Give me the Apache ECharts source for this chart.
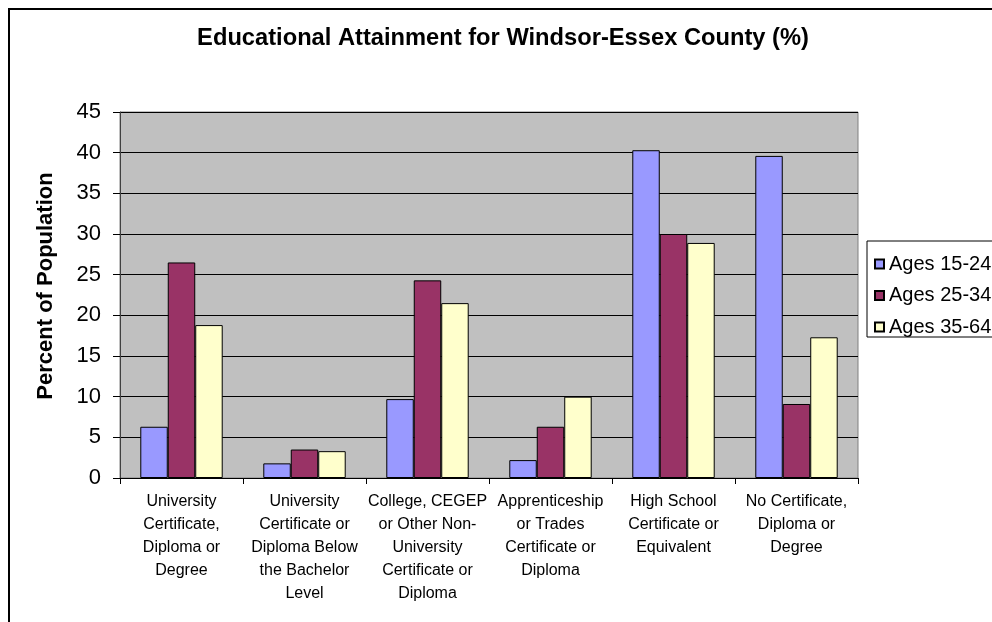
<!DOCTYPE html>
<html>
<head>
<meta charset="utf-8">
<script src="https://cdn.jsdelivr.net/npm/echarts@6/dist/echarts.min.js"></script>
<style>html,body{margin:0;padding:0;background:#fff;}#c{width:992px;height:622px;}</style>
</head>
<body>
<div id="c"></div>
<script>
const chartTitle = 'Educational Attainment for Windsor-Essex County (%)';
const yAxisName = 'Percent of Population';
const categories = [
  'University\nCertificate,\nDiploma or\nDegree',
  'University\nCertificate or\nDiploma Below\nthe Bachelor\nLevel',
  'College, CEGEP\nor Other Non-\nUniversity\nCertificate or\nDiploma',
  'Apprenticeship\nor Trades\nCertificate or\nDiploma',
  'High School\nCertificate or\nEquivalent',
  'No Certificate,\nDiploma or\nDegree'
];
const seriesNames = ['Ages 15-24', 'Ages 25-34', 'Ages 35-64'];
const ages15to24 = [6.3, 1.8, 9.7, 2.2, 40.3, 39.6];
const ages25to34 = [26.5, 3.5, 24.3, 6.3, 30.0, 9.1];
const ages35to64 = [18.8, 3.3, 21.5, 10.0, 28.9, 17.3];
const seriesColors = ['#9999FF', '#993366', '#FFFFCC'];
const seriesValues = [ages15to24, ages25to34, ages35to64];

const chart = echarts.init(document.getElementById('c'));
const font = 'Arial, "Liberation Sans", sans-serif';
chart.setOption({
  animation: false,
  backgroundColor: '#ffffff',
  title: {
    text: chartTitle,
    left: 498,
    textAlign: 'center',
    top: 21,
    textStyle: { fontFamily: font, fontSize: 23.7, fontWeight: 'bold', color: '#000' }
  },
  graphic: [{
    type: 'rect',
    shape: { x: 9, y: 9, width: 1200, height: 800 },
    style: { fill: 'none', stroke: '#000', lineWidth: 2 },
    silent: true
  }],
  legend: {
    orient: 'vertical',
    left: 867,
    top: 241,
    itemWidth: 9,
    itemHeight: 9,
    itemGap: 11.5,
    padding: [13, 40, 0, 7],
    borderColor: '#000',
    borderWidth: 1,
    backgroundColor: '#fff',
    icon: 'rect',
    textStyle: { fontFamily: font, fontSize: 20, lineHeight: 20, color: '#000' },
    data: seriesNames
  },
  grid: {
    left: 120, top: 112, right: 134, bottom: 144,
    show: true, backgroundColor: '#C0C0C0', borderColor: '#808080', borderWidth: 1
  },
  xAxis: {
    type: 'category',
    data: categories,
    axisLine: { lineStyle: { color: '#000', width: 1 } },
    axisTick: { show: true, length: 6, lineStyle: { color: '#000' } },
    axisLabel: {
      interval: 0, margin: 12, lineHeight: 23,
      fontFamily: font, fontSize: 16, color: '#000', align: 'center'
    }
  },
  yAxis: {
    type: 'value',
    min: 0, max: 45, interval: 5,
    name: yAxisName,
    nameLocation: 'middle',
    nameRotate: 90,
    nameGap: 63,
    nameTextStyle: { fontFamily: font, fontSize: 22, fontWeight: 'bold', color: '#000', padding: [0, 0, 0, 18] },
    axisLine: { show: true, lineStyle: { color: '#404040', width: 1 } },
    axisTick: { show: true, length: 7, lineStyle: { color: '#000' } },
    axisLabel: { margin: 19, fontFamily: font, fontSize: 22, color: '#000' },
    splitLine: { show: true, lineStyle: { color: '#000', width: 1 } }
  },
  series: seriesNames.map((name, i) => ({
    name: name,
    type: 'bar',
    data: seriesValues[i],
    barGap: '0%',
    barCategoryGap: '33%',
    itemStyle: { color: seriesColors[i], borderColor: '#000', borderWidth: 1 }
  }))
});
</script>
</body>
</html>
